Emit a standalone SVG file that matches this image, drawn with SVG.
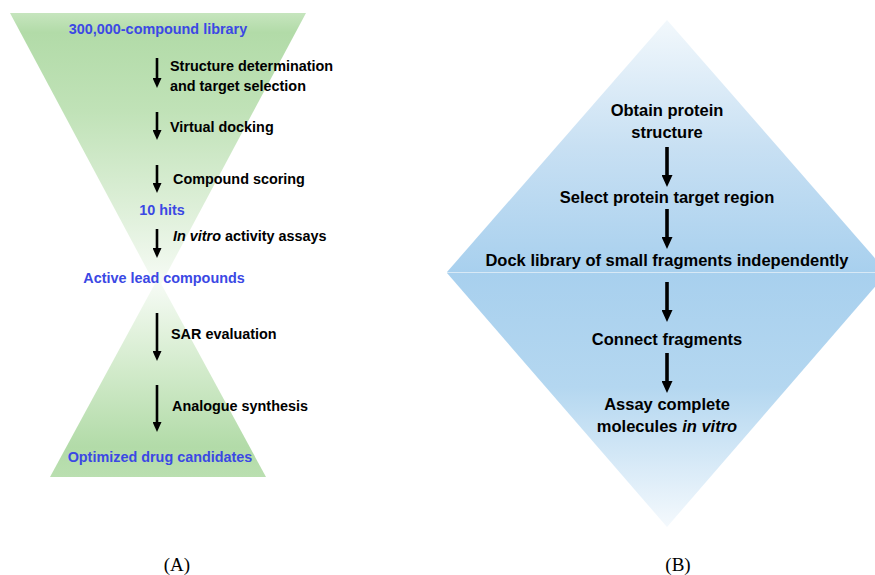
<svg xmlns="http://www.w3.org/2000/svg" width="875" height="575" viewBox="0 0 875 575">
<defs>
<linearGradient id="gTop" x1="0" y1="13" x2="0" y2="290" gradientUnits="userSpaceOnUse">
<stop offset="0" stop-color="#c6e5be"/>
<stop offset="0.07" stop-color="#b2dba8"/>
<stop offset="0.35" stop-color="#c0e2b7"/>
<stop offset="0.7" stop-color="#ddefd8"/>
<stop offset="1" stop-color="#f8fcf7"/>
</linearGradient>
<linearGradient id="gBot" x1="0" y1="278" x2="0" y2="477" gradientUnits="userSpaceOnUse">
<stop offset="0" stop-color="#f8fcf7"/>
<stop offset="0.45" stop-color="#d3ebcc"/>
<stop offset="0.85" stop-color="#b2dba8"/>
<stop offset="1" stop-color="#badfb0"/>
</linearGradient>
<linearGradient id="bTop" x1="0" y1="20" x2="0" y2="272" gradientUnits="userSpaceOnUse">
<stop offset="0" stop-color="#f2f8fc"/>
<stop offset="0.5" stop-color="#c8e0f3"/>
<stop offset="1" stop-color="#a8d0ee"/>
</linearGradient>
<linearGradient id="bBot" x1="0" y1="273" x2="0" y2="527" gradientUnits="userSpaceOnUse">
<stop offset="0" stop-color="#a8d0ee"/>
<stop offset="0.45" stop-color="#b4d7f0"/>
<stop offset="1" stop-color="#f4f9fd"/>
</linearGradient>
<marker id="hS" markerUnits="userSpaceOnUse" markerWidth="10" markerHeight="9" refX="4" refY="4.5" orient="auto">
<path d="M0,0 L10,4.5 L0,9 z" fill="#000"/>
</marker>
<marker id="hL" markerUnits="userSpaceOnUse" markerWidth="12" markerHeight="11" refX="5" refY="5.5" orient="auto">
<path d="M0,0 L12,5.5 L0,11 z" fill="#000"/>
</marker>
</defs>
<style>
.t{font-family:"Liberation Sans",Arial,sans-serif;font-weight:bold;fill:#000}
.s{font-size:14.4px}
.b{font-size:14.4px;fill:#3b48e4;text-anchor:middle}
.r{font-size:16.5px;text-anchor:middle}
.cap{font-family:"Liberation Serif","Times New Roman",serif;font-size:19px;text-anchor:middle;fill:#000}
.a1{stroke:#000;stroke-width:2.6;fill:none;marker-end:url(#hS)}
.a2{stroke:#000;stroke-width:3.6;fill:none;marker-end:url(#hL)}
</style>
<rect width="875" height="575" fill="#fff"/>
<g id="shapes">
<polygon points="10,13 306,13 158,290" fill="url(#gTop)"/>
<polygon points="158,278 50,477 266,477" fill="url(#gBot)"/>
<polygon points="667,20 447,272 887,272" fill="url(#bTop)"/>
<polygon points="447,273 887,273 667,527" fill="url(#bBot)"/>
<line x1="447" y1="272.5" x2="875" y2="272.5" stroke="#d8e9f6" stroke-width="1"/>
</g>
<g id="connectors">
<line class="a1" x1="157" y1="58" x2="157" y2="82"/>
<line class="a1" x1="157" y1="112" x2="157" y2="134"/>
<line class="a1" x1="157" y1="165" x2="157" y2="187"/>
<line class="a1" x1="157" y1="229" x2="157" y2="252"/>
<line class="a1" x1="157" y1="313" x2="157" y2="355"/>
<line class="a1" x1="157" y1="385" x2="157" y2="426"/>
<line class="a2" x1="667" y1="147" x2="667" y2="180"/>
<line class="a2" x1="667" y1="209" x2="667" y2="242"/>
<line class="a2" x1="667" y1="282" x2="667" y2="315"/>
<line class="a2" x1="667" y1="353" x2="667" y2="386"/>
</g>
<g id="a-library"><text class="t b" x="158" y="34">300,000-compound library</text></g>
<g id="a-structure"><text class="t s" x="170" y="71">Structure determination</text><text class="t s" x="170" y="91">and target selection</text></g>
<g id="a-docking"><text class="t s" x="170" y="132">Virtual docking</text></g>
<g id="a-scoring"><text class="t s" x="173" y="184">Compound scoring</text></g>
<g id="a-hits"><text class="t b" x="162" y="215">10 hits</text></g>
<g id="a-assays"><text class="t s" x="173" y="241"><tspan font-style="italic">In vitro</tspan> activity assays</text></g>
<g id="a-lead"><text class="t b" x="164" y="283">Active lead compounds</text></g>
<g id="a-sar"><text class="t s" x="171" y="339">SAR evaluation</text></g>
<g id="a-analogue"><text class="t s" x="172" y="411">Analogue synthesis</text></g>
<g id="a-optimized"><text class="t b" x="160" y="462">Optimized drug candidates</text></g>
<g id="b-obtain"><text class="t r" x="667" y="116">Obtain protein</text><text class="t r" x="667" y="138">structure</text></g>
<g id="b-select"><text class="t r" x="667" y="203">Select protein target region</text></g>
<g id="b-dock"><text class="t r" x="667" y="266">Dock library of small fragments independently</text></g>
<g id="b-connect"><text class="t r" x="667" y="345">Connect fragments</text></g>
<g id="b-assay"><text class="t r" x="667" y="410">Assay complete</text><text class="t r" x="667" y="432">molecules <tspan font-style="italic">in vitro</tspan></text></g>
<g id="captions"><text class="cap" x="177" y="571">(A)</text><text class="cap" x="678" y="571">(B)</text></g>
</svg>
